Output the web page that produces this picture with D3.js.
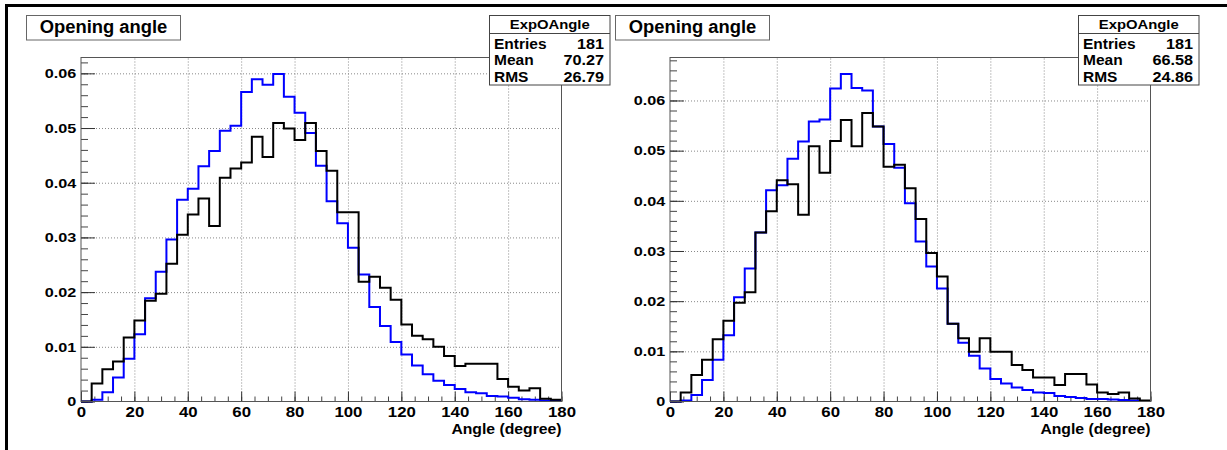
<!DOCTYPE html>
<html>
<head>
<meta charset="utf-8">
<script src="https://cdn.jsdelivr.net/npm/d3@7"></script>
<style>
  body { margin: 0; background: #fff; }
  text { font-family: "Liberation Sans", Arial, Helvetica, sans-serif; font-weight: bold; fill: #000; }
</style>
</head>
<body>
<svg id="chart" width="1227" height="450"></svg>
<script>
// bin left edges (4 degree bins)
let binEdges = [0,4,8,12,16,20,24,28,32,36,40,44,48,52,56,60,64,68,72,76,80,84,88,
                92,96,100,104,108,112,116,120,124,128,132,136,140,144,148,152,156,
                160,164,168,172,176];
let xTicks = [0,20,40,60,80,100,120,140,160,180];
let yTicks = [0,0.01,0.02,0.03,0.04,0.05,0.06];
let yTickLabels = ["0","0.01","0.02","0.03","0.04","0.05","0.06"];

let leftBlue = [0,0.0003,0.0017,0.0044,0.0078,0.0123,0.0189,0.0237,0.0296,0.0369,0.0389,
  0.0430,0.0458,0.0495,0.0504,0.0566,0.0589,0.0579,0.0599,0.0557,0.0528,0.0491,0.0431,
  0.0366,0.0326,0.0281,0.0232,0.0173,0.0138,0.0109,0.0086,0.0066,0.0050,0.0038,0.0030,
  0.0023,0.0017,0.0015,0.0010,0.0009,0.0007,0.0004,0.0003,0.0002,0.0001];
let leftBlack = [0,0.0033,0.0059,0.0073,0.0117,0.0148,0.0184,0.0197,0.0252,0.0305,0.0342,
  0.0371,0.0321,0.0409,0.0426,0.0437,0.0484,0.0447,0.0509,0.0499,0.0478,0.0509,0.0458,
  0.0422,0.0346,0.0346,0.0219,0.0228,0.0208,0.0186,0.0141,0.0120,0.0114,0.0100,0.0083,
  0.0065,0.0069,0.0069,0.0069,0.0041,0.0027,0.0020,0.0024,0.0005,0.0003];
let rightBlue = [0,0.0002,0.0013,0.0043,0.0083,0.0132,0.0208,0.0265,0.0337,0.0421,0.0431,
  0.0484,0.0518,0.0558,0.0562,0.0624,0.0653,0.0625,0.0620,0.0548,0.0513,0.0466,0.0395,
  0.0319,0.0269,0.0225,0.0155,0.0117,0.0091,0.0066,0.0045,0.0036,0.0028,0.0023,0.0018,
  0.0017,0.0011,0.0009,0.0007,0.0005,0.0005,0.0004,0.0003,0.0002,0.0001];
let rightBlack = [0,0.0018,0.0053,0.0083,0.0124,0.0161,0.0197,0.0218,0.0337,0.0379,0.0441,
  0.0433,0.0372,0.0509,0.0456,0.0519,0.0561,0.0509,0.0575,0.0548,0.0468,0.0472,0.0425,
  0.0364,0.0296,0.0249,0.0155,0.0126,0.0099,0.0126,0.0099,0.0099,0.0073,0.0063,0.0048,
  0.0048,0.0033,0.0055,0.0055,0.0034,0.0018,0.0015,0.0018,0.0006,0.0002];

let statLabels = ["Entries","Mean","RMS"];
let leftStats = ["181","70.27","26.79"];
let rightStats = ["181","66.58","24.86"];
let histTitle = "Opening angle";
let statTitle = "ExpOAngle";
let xTitle = "Angle (degree)";

let svg = d3.select("#chart");

// outer canvas border
svg.append("line").attr("x1", 5).attr("y1", 5.5).attr("x2", 1227).attr("y2", 5.5)
   .attr("stroke", "#000").attr("stroke-width", 3);
svg.append("line").attr("x1", 6.5).attr("y1", 4).attr("x2", 6.5).attr("y2", 450)
   .attr("stroke", "#000").attr("stroke-width", 3);

function label(g, x, y, str, size, sx, anchor) {
  return g.append("text")
    .attr("transform", "translate(" + x + "," + y + ") scale(" + sx + ",1)")
    .attr("text-anchor", anchor)
    .style("font-size", size + "px")
    .text(str);
}

function drawPanel(dx, blue, black, stats) {
  let g = svg.append("g").attr("transform", "translate(" + dx + ",0)");
  let left = 81, right = 561.5, top = 57.5, bottom = 401.5;

  let ymax = 1.05 * d3.max(blue.concat(black));
  let x = d3.scaleLinear().domain([0, 180]).range([left, right]);
  let y = d3.scaleLinear().domain([0, ymax]).range([bottom, top]);

  // grid
  g.append("g").attr("transform", "translate(0," + bottom + ")")
   .call(d3.axisBottom(x).tickValues(xTicks.slice(1, -1)).tickSize(-(bottom - top)).tickFormat(""))
   .call(a => a.select(".domain").remove())
   .selectAll("line").attr("stroke", "#888").attr("stroke-dasharray", "1,2");
  g.append("g").attr("transform", "translate(" + left + ",0)")
   .call(d3.axisLeft(y).tickValues(yTicks.slice(1)).tickSize(-(right - left)).tickFormat(""))
   .call(a => a.select(".domain").remove())
   .selectAll("line").attr("stroke", "#888").attr("stroke-dasharray", "1,2");

  // minor ticks
  g.append("g").attr("transform", "translate(0," + bottom + ")")
   .call(d3.axisBottom(x).ticks(36).tickSize(-5).tickFormat(""))
   .call(a => a.select(".domain").remove())
   .selectAll("line").attr("stroke", "#444");
  g.append("g").attr("transform", "translate(" + left + ",0)")
   .call(d3.axisLeft(y).tickValues(d3.range(0, ymax, 0.002)).tickSize(-7).tickFormat(""))
   .call(a => a.select(".domain").remove())
   .selectAll("line").attr("stroke", "#444");

  // major ticks with labels
  let xa = g.append("g").attr("transform", "translate(0," + bottom + ")")
   .call(d3.axisBottom(x).tickValues(xTicks).tickSize(-10).tickPadding(6).tickFormat(d3.format("d")));
  xa.select(".domain").remove();
  xa.selectAll("line").attr("stroke", "#333");
  xa.selectAll("text").attr("fill", "#000").style("font-size", "14px")
    .style("font-family", "Liberation Sans, Arial, sans-serif").style("font-weight", "bold")
    .attr("transform", "scale(1.2,1)");

  let ya = g.append("g").attr("transform", "translate(" + left + ",0)")
   .call(d3.axisLeft(y).tickValues(yTicks).tickSize(-14).tickPadding(4)
     .tickFormat((d, i) => yTickLabels[i]));
  ya.select(".domain").remove();
  ya.selectAll("line").attr("stroke", "#333");
  ya.selectAll("text").attr("fill", "#000").style("font-size", "13.5px")
    .style("font-family", "Liberation Sans, Arial, sans-serif").style("font-weight", "bold")
    .attr("transform", "scale(1.2,1)");

  // histograms as steps
  let line = d3.line().x(d => x(d[0])).y(d => y(d[1])).curve(d3.curveStepAfter);
  let steps = vals => binEdges.map((e, i) => [e, vals[i]]).concat([[180, vals[vals.length - 1]]]);

  g.append("path").attr("d", line(steps(blue)))
   .attr("fill", "none").attr("stroke", "#0000ff").attr("stroke-width", 2);
  g.append("path").attr("d", line(steps(black)))
   .attr("fill", "none").attr("stroke", "#000").attr("stroke-width", 2);

  // frame
  g.append("rect").attr("x", left).attr("y", top)
   .attr("width", right - left).attr("height", bottom - top)
   .attr("fill", "none").attr("stroke", "#555").attr("stroke-width", 1);

  // x axis title
  label(g, right, 434, xTitle, 15, 1.05, "end");

  // title box
  g.append("rect").attr("x", 26.5).attr("y", 15.5).attr("width", 154).attr("height", 24.5)
   .attr("fill", "#fff").attr("stroke", "#666");
  label(g, 103.5, 32.5, histTitle, 17.5, 1.05, "middle");

  // stats box
  let sx0 = 489.5, sw = 120.5;
  g.append("rect").attr("x", sx0).attr("y", 15.5).attr("width", sw).attr("height", 69.5)
   .attr("fill", "#fff").attr("stroke", "#444");
  g.append("line").attr("x1", sx0).attr("x2", sx0 + sw).attr("y1", 33.5).attr("y2", 33.5)
   .attr("stroke", "#444");
  label(g, sx0 + sw / 2, 28.5, statTitle, 13.5, 1.1, "middle");
  statLabels.forEach((s, i) => {
    let by = 48.5 + i * 16.7;
    label(g, sx0 + 4.5, by, s, 14.5, 1.07, "start");
    label(g, sx0 + sw - 6, by, stats[i], 14.5, 1.12, "end");
  });
}

drawPanel(0, leftBlue, leftBlack, leftStats);
drawPanel(589, rightBlue, rightBlack, rightStats);
</script>
</body>
</html>
